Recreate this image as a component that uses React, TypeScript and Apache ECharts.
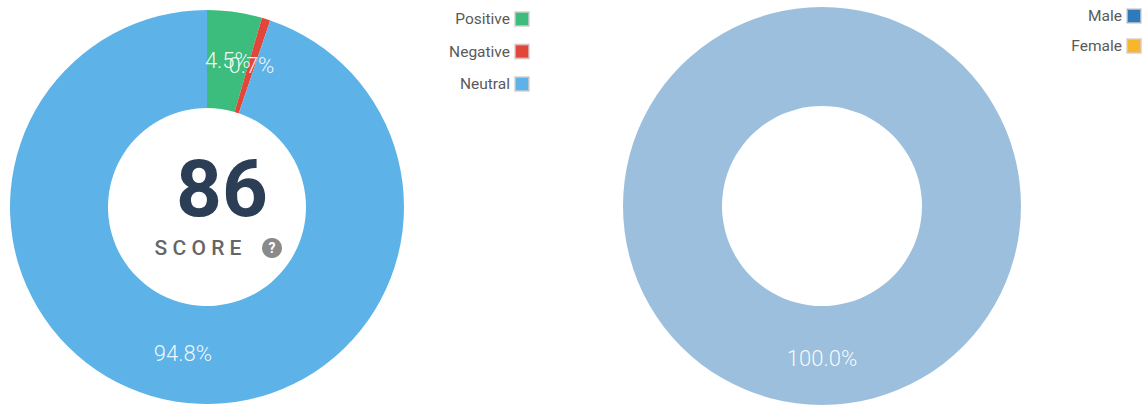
import React, { useEffect, useRef } from "react";
import * as echarts from "echarts";

const sentimentNames = ["Positive", "Negative", "Neutral"];
const sentimentValues = [4.5, 0.7, 94.8];
const sentimentColors = ["#3dbd7d", "#e2463a", "#5db2e8"];

const genderNames = ["Male", "Female"];
const genderValues = [100, 0];
const genderSliceColors = ["#9bbfdd", "#f8b62d"];
const genderLegendColors = ["#2b7bbd", "#f8b62d"];

const scoreValue = "86";
const scoreLabel = "S C O R E";

export default function App() {
  const ref = useRef<HTMLDivElement>(null);
  useEffect(() => {
    if (!ref.current) return;
    const chart = echarts.init(ref.current, null, { renderer: "svg" });
    const fmt = (p: any) => (p.value > 0 ? p.value.toFixed(1) + "%" : "");
    const labelText = {
      color: "rgba(255,255,255,0.93)",
      fontSize: 22,
      fontWeight: 300,
      fontFamily: "Roboto",
    };
    const legendBase = {
      orient: "vertical",
      align: "right",
      padding: 0,
      itemWidth: 14,
      itemHeight: 14,
      icon: "rect",
      itemStyle: { borderColor: "rgba(215,205,205,0.7)", borderWidth: 2 },
      textStyle: { color: "#5a5a5a", fontSize: 15.5, fontFamily: "Roboto" },
      selectedMode: false,
    };

    const leftCenter = [207, 207];
    const leftInner = 99;
    const leftOuter = 197;
    const total = sentimentValues.reduce((a, b) => a + b, 0);
    let cum = 0;
    const labelPoints = sentimentValues.map((v, i) => {
      const mid = cum + v / 2;
      cum += v;
      return {
        name: sentimentNames[i],
        value: [(leftInner + leftOuter) / 2, (mid / total) * 100],
        pct: v,
      };
    });

    chart.setOption({
      animation: false,
      polar: { center: leftCenter, radius: [0, leftOuter] },
      angleAxis: { type: "value", min: 0, max: 100, startAngle: 90, clockwise: true, show: false },
      radiusAxis: { type: "value", min: 0, max: leftOuter, show: false },
      legend: [
        {
          ...legendBase,
          right: 617,
          top: 11,
          itemGap: 16.5,
          data: sentimentNames.map((n, i) => ({ name: n, itemStyle: { color: sentimentColors[i] } })),
        },
        {
          ...legendBase,
          right: 5,
          top: 8,
          itemGap: 14,
          data: genderNames.map((n, i) => ({ name: n, itemStyle: { color: genderLegendColors[i] } })),
        },
      ],
      series: [
        {
          type: "pie",
          center: leftCenter,
          radius: [leftInner, leftOuter],
          startAngle: 90,
          clockwise: true,
          label: { show: false },
          labelLine: { show: false },
          emphasis: { disabled: true },
          data: sentimentNames.map((n, i) => ({
            name: n,
            value: sentimentValues[i],
            itemStyle: { color: sentimentColors[i] },
          })),
        },
        {
          type: "scatter",
          name: "sentiment-labels",
          coordinateSystem: "polar",
          silent: true,
          symbol: "circle",
          symbolSize: 1,
          itemStyle: { color: "rgba(0,0,0,0)", opacity: 1 },
          label: {
            show: true,
            position: "inside",
            formatter: (p: any) => p.data.pct.toFixed(1) + "%",
            ...labelText,
          },
          data: labelPoints,
          z: 5,
        },
        {
          type: "pie",
          center: [822, 206],
          radius: [100, 199],
          startAngle: 90,
          clockwise: true,
          avoidLabelOverlap: false,
          label: { show: true, position: "inside", formatter: fmt, ...labelText },
          labelLine: { show: false },
          emphasis: { disabled: true },
          data: genderNames.map((n, i) => ({
            name: n,
            value: genderValues[i],
            itemStyle: { color: genderSliceColors[i] },
          })),
        },
      ],
      graphic: [
        {
          type: "text",
          x: 222,
          y: 189,
          style: {
            text: scoreValue,
            fill: "#2b3e55",
            font: "bold 80px Roboto",
            align: "center",
            verticalAlign: "middle",
          },
        },
        {
          type: "text",
          x: 198,
          y: 248,
          style: {
            text: scoreLabel,
            fill: "#666666",
            font: "500 21px Roboto",
            align: "center",
            verticalAlign: "middle",
          },
        },
        {
          type: "circle",
          shape: { cx: 272, cy: 248, r: 10 },
          style: { fill: "#8a8a8a" },
        },
        {
          type: "text",
          x: 272,
          y: 248,
          style: {
            text: "?",
            fill: "#ffffff",
            font: "bold 14px Roboto",
            align: "center",
            verticalAlign: "middle",
          },
        },
      ],
    });
    return () => chart.dispose();
  }, []);
  return (
    <div
      ref={ref}
      style={{ position: "fixed", left: 0, top: 0, width: 1147, height: 407, background: "#fff" }}
    />
  );
}
